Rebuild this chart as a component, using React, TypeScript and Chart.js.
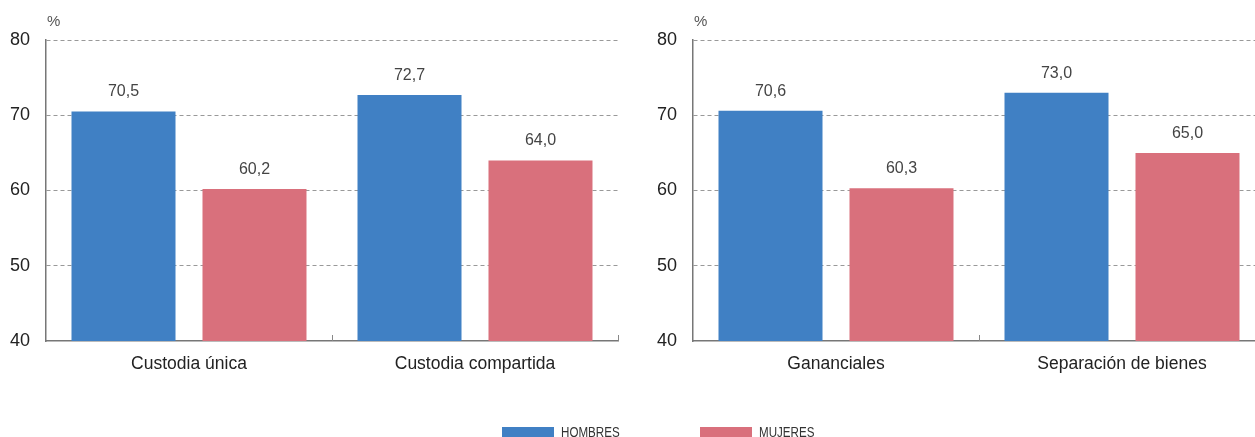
import React, { useEffect, useRef } from "react";
import { Chart, registerables } from "chart.js";

Chart.register(...registerables);

const leftCategories = ["Custodia única", "Custodia compartida"];
const leftHombres = [70.5, 72.7];
const leftMujeres = [60.2, 64.0];

const rightCategories = ["Gananciales", "Separación de bienes"];
const rightHombres = [70.6, 73.0];
const rightMujeres = [60.3, 65.0];

const seriesNames = ["HOMBRES", "MUJERES"];
const yMin = 40;
const yMax = 80;
const yStep = 10;
const unitLabel = "%";

const BLUE = "#4080c4";
const RED = "#d9707c";
const FONT = "'Liberation Sans', Arial, Helvetica, sans-serif";

const fmt = (v: number) => v.toFixed(1).replace(".", ",");

const decorPlugin = {
  id: "decor",
  afterDatasetsDraw(chart: any) {
    const ctx = chart.ctx;
    const area = chart.chartArea;
    const xs = chart.scales.x;
    ctx.save();
    // value labels
    ctx.font = `16px ${FONT}`;
    ctx.fillStyle = "#444";
    ctx.textAlign = "center";
    ctx.textBaseline = "alphabetic";
    chart.data.datasets.forEach((ds: any, di: number) => {
      const meta = chart.getDatasetMeta(di);
      meta.data.forEach((bar: any, i: number) => {
        ctx.fillText(fmt(ds.data[i]), bar.x, bar.y - 15);
      });
    });
    // small ticks at category boundaries
    ctx.strokeStyle = "#888";
    ctx.lineWidth = 1;
    const n = chart.data.labels.length;
    for (let i = 0; i < n; i++) {
      const bx =
        i < n - 1
          ? (xs.getPixelForValue(i) + xs.getPixelForValue(i + 1)) / 2
          : area.right;
      ctx.beginPath();
      ctx.moveTo(Math.round(bx) + 0.5, area.bottom);
      ctx.lineTo(Math.round(bx) + 0.5, area.bottom - 6);
      ctx.stroke();
    }
    // unit label
    ctx.font = `15px ${FONT}`;
    ctx.fillStyle = "#555";
    ctx.textAlign = "left";
    ctx.textBaseline = "middle";
    ctx.fillText(unitLabel, area.left + 1, 22);
    ctx.restore();
  },
};

function Panel({
  categories,
  hombres,
  mujeres,
  left,
}: {
  categories: string[];
  hombres: number[];
  mujeres: number[];
  left: number;
}) {
  const ref = useRef<HTMLCanvasElement>(null);
  useEffect(() => {
    if (!ref.current) return;
    const chart = new Chart(ref.current, {
      type: "bar",
      data: {
        labels: categories,
        datasets: [
          {
            label: seriesNames[0],
            data: hombres,
            backgroundColor: BLUE,
            categoryPercentage: 0.916,
            barPercentage: 0.794,
          },
          {
            label: seriesNames[1],
            data: mujeres,
            backgroundColor: RED,
            categoryPercentage: 0.916,
            barPercentage: 0.794,
          },
        ],
      },
      options: {
        animation: false,
        responsive: false,
        maintainAspectRatio: false,
        layout: { padding: { top: 40, right: 2, left: 0, bottom: 0 } },
        plugins: {
          legend: { display: false },
          tooltip: { enabled: false },
        },
        scales: {
          x: {
            grid: { display: false, drawTicks: false },
            border: { display: true, color: "#777", width: 1.5 },
            ticks: {
              padding: 13,
              color: "#222",
              font: { family: FONT, size: 17.5 },
            },
            afterFit: (s: any) => {
              s.height = 96;
            },
          },
          y: {
            min: yMin,
            max: yMax,
            ticks: {
              stepSize: yStep,
              padding: 16,
              color: "#222",
              font: { family: FONT, size: 18 },
            },
            grid: {
              color: (c: any) => (c.tick && c.tick.value === yMin ? "rgba(0,0,0,0)" : "#999"),
              lineWidth: 1,
              drawTicks: false,
            },
            border: { display: true, color: "#777", width: 1.5, dash: [4, 3] },
            afterFit: (s: any) => {
              s.width = 46;
            },
          },
        },
      },
      plugins: [decorPlugin],
    });
    return () => chart.destroy();
  }, []);
  return (
    <canvas
      ref={ref}
      width={620}
      height={437}
      style={{ position: "absolute", left, top: 0, width: 620, height: 437 }}
    />
  );
}

const legendItem = (color: string, label: string, x: number) => (
  <div
    key={label}
    style={{ position: "absolute", left: x, top: 427, height: 10, display: "flex", alignItems: "center" }}
  >
    <div style={{ width: 52, height: 10, background: color, flex: "none" }} />
    <span
      style={{
        marginLeft: 7,
        display: "inline-block",
        transform: "scaleX(0.8)",
        transformOrigin: "left center",
        fontFamily: "'Liberation Sans', Arial, sans-serif",
        fontSize: 14.5,
        color: "#333",
        lineHeight: "10px",
        whiteSpace: "nowrap",
      }}
    >
      {label}
    </span>
  </div>
);

export default function App() {
  return (
    <div
      style={{
        position: "fixed",
        left: 0,
        top: 0,
        width: 1255,
        height: 437,
        overflow: "hidden",
        background: "#fff",
      }}
    >
      <Panel categories={leftCategories} hombres={leftHombres} mujeres={leftMujeres} left={0} />
      <Panel categories={rightCategories} hombres={rightHombres} mujeres={rightMujeres} left={647} />
      {legendItem(BLUE, seriesNames[0], 502)}
      {legendItem(RED, seriesNames[1], 700)}
    </div>
  );
}
